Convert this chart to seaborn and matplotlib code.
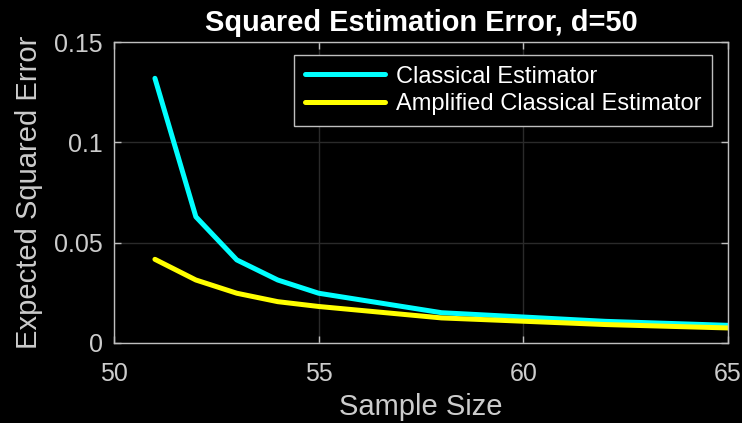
import numpy as np
import pandas as pd
import seaborn as sns
import matplotlib
matplotlib.use("Agg")
import matplotlib.pyplot as plt  # noqa
from matplotlib.ticker import FuncFormatter

# values
sample_size = [51, 52, 53, 54, 55, 58, 62, 65]
classical = [0.1319, 0.0629, 0.0414, 0.0314, 0.0248, 0.0151, 0.0108, 0.0088]
amplified = [0.0417, 0.0314, 0.0248, 0.0206, 0.0182, 0.0125, 0.0092, 0.0075]
series_names = ["Classical Estimator", "Amplified Classical Estimator"]

df = pd.DataFrame({
    "Sample Size": sample_size * 2,
    "err": classical + amplified,
    "series": [series_names[0]] * len(sample_size) + [series_names[1]] * len(sample_size),
})

sns.set_style("dark")
plt.rcParams["font.family"] = ["Liberation Sans", "DejaVu Sans"]
plt.rcParams["axes.linewidth"] = 1.0

fg = "#cccccc"
fig = plt.figure(figsize=(7.42, 4.23), dpi=100, facecolor="black")
ax = fig.add_axes([114 / 742, 1 - 343 / 423, 614 / 742, 301 / 423])
ax.set_facecolor("black")

sns.lineplot(data=df, x="Sample Size", y="err", hue="series",
             palette=["#00ffff", "#ffff00"], linewidth=3.6, ax=ax)

ax.set_xlim(50, 65)
ax.set_ylim(0, 0.15)
ax.set_xticks([50, 55, 60, 65])
ax.set_yticks([0, 0.05, 0.1, 0.15])
ax.yaxis.set_major_formatter(FuncFormatter(lambda v, p: "%g" % v))

ax.grid(True, color="#2a2a2a", linewidth=1.0)
for s in ax.spines.values():
    s.set_visible(True)
    s.set_color("#bfbfbf")
ax.tick_params(direction="in", length=5, width=1, colors="#bfbfbf",
               labelcolor=fg, labelsize=18, top=True, right=True,
               bottom=True, left=True)
ax.tick_params(axis="x", pad=14)
ax.tick_params(axis="y", pad=8)

ax.set_xlabel("Sample Size", fontsize=21, color=fg, labelpad=5)
ax.set_ylabel("Expected Squared Error", fontsize=21, color=fg, labelpad=8)
ax.set_title("Squared Estimation Error, d=50", fontsize=20.9,
             fontweight="bold", color="white", pad=8)

leg = ax.legend(loc="upper right", bbox_to_anchor=(0.974, 0.957),
                fontsize=17, frameon=True, fancybox=False,
                handlelength=3.4, borderpad=0.45, labelspacing=0.25,
                handletextpad=0.45, borderaxespad=0)
leg.get_frame().set_facecolor("black")
leg.get_frame().set_edgecolor("#bfbfbf")
leg.get_frame().set_alpha(1)
for t in leg.get_texts():
    t.set_color("white")
for h in leg.get_lines():
    h.set_linewidth(3.6)

fig.savefig("out.png", dpi=100, facecolor="black")
